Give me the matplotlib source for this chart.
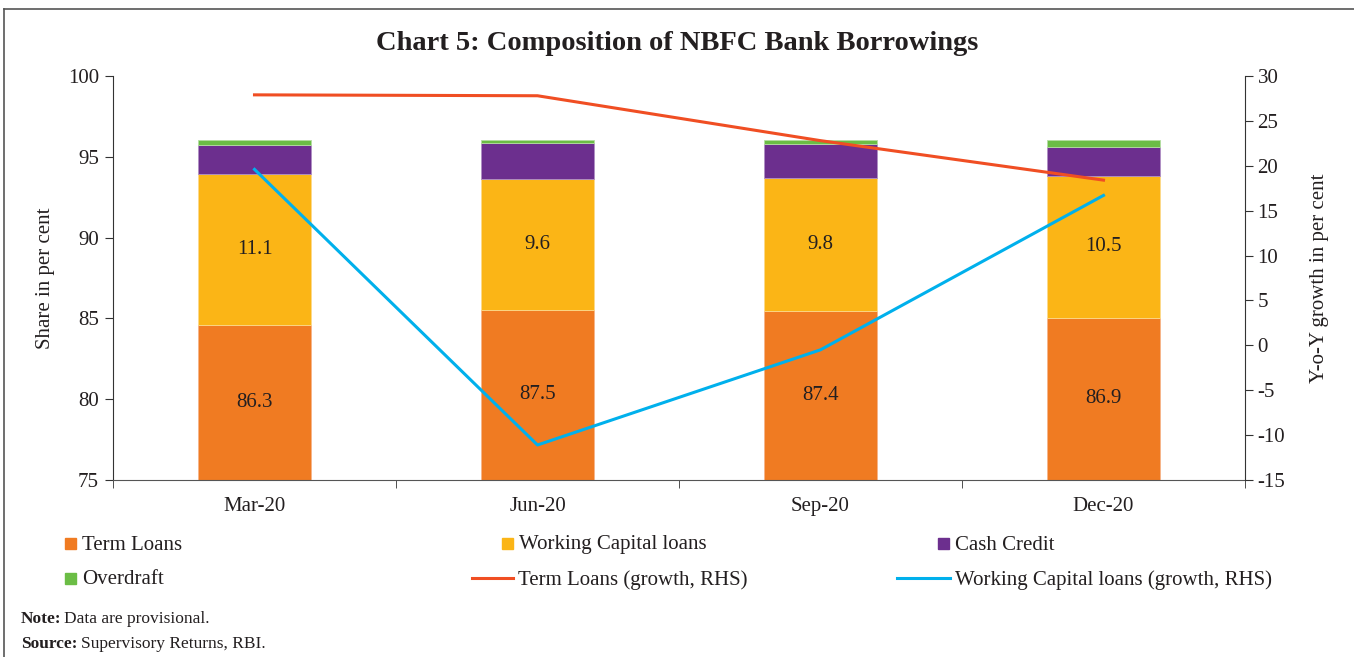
import matplotlib
matplotlib.use("Agg")
import matplotlib.pyplot as plt
from matplotlib.lines import Line2D
from matplotlib.patches import Rectangle
import numpy as np

# ---- data ----
categories = ['Mar-20', 'Jun-20', 'Sep-20', 'Dec-20']
term_loans = [84.57, 85.55, 85.43, 85.05]
working_capital = [9.35, 8.05, 8.24, 8.77]
cash_credit = [1.80, 2.25, 2.10, 1.80]
overdraft = [0.34, 0.21, 0.29, 0.44]
term_labels = ['86.3', '87.5', '87.4', '86.9']
wc_labels = ['11.1', '9.6', '9.8', '10.5']
term_growth = [27.9, 27.8, 22.8, 18.4]
wc_growth = [19.6, -11.1, -0.5, 16.7]
left_ticks = [75, 80, 85, 90, 95, 100]
right_ticks = [-15, -10, -5, 0, 5, 10, 15, 20, 25, 30]

C_TL = '#F07B22'
C_WC = '#FBB516'
C_CC = '#6C2F8E'
C_OD = '#6BBD45'
C_RED = '#F04E23'
C_BLUE = '#00B0EC'

FONT = 'Liberation Serif'
plt.rcParams['font.family'] = [FONT, 'DejaVu Serif']
TXT = '#231F20'

W, H = 1354, 657
fig = plt.figure(figsize=(W / 100, H / 100), dpi=100)
ax = fig.add_axes([113 / W, 1 - 480 / H, (1245 - 113) / W, (480 - 76) / H])

x = np.arange(len(categories))
bw = 0.4
tl = np.array(term_loans)
wc = np.array(working_capital)
cc = np.array(cash_credit)
od = np.array(overdraft)
ax.bar(x, tl, bw, color=C_TL, edgecolor='#F6B48A', linewidth=0.6)
ax.bar(x, wc, bw, bottom=tl, color=C_WC, edgecolor='#FCD98A', linewidth=0.6)
ax.bar(x, cc, bw, bottom=tl + wc, color=C_CC, edgecolor='#B08FC4', linewidth=0.6)
ax.bar(x, od, bw, bottom=tl + wc + cc, color=C_OD, edgecolor='#B5DEA2', linewidth=0.6)

ymin, ymax = 75, 100
ax.set_ylim(ymin, ymax)
ax.set_xlim(-0.5, len(categories) - 0.5)
for i in range(len(categories)):
    ax.text(x[i], (ymin + tl[i]) / 2, term_labels[i], ha='center', va='center',
            fontsize=15, color=TXT)
    ax.text(x[i], tl[i] + wc[i] / 2, wc_labels[i], ha='center', va='center',
            fontsize=15, color=TXT)

ax.set_yticks(left_ticks)
ax.set_yticklabels([str(t) for t in left_ticks], fontsize=15, color=TXT)
ax.set_xticks(x)
ax.set_xticklabels(categories, fontsize=15, color=TXT)
ax.set_xticks(np.arange(-0.5, len(categories), 1.0), minor=True)
ax.tick_params(axis='x', which='major', length=0, pad=12)
ax.tick_params(axis='x', which='minor', length=6, direction='out', color='#333333')
ax.tick_params(axis='y', length=6, direction='out', color='#333333', pad=4)
for s in ['top', 'right']:
    ax.spines[s].set_visible(False)
ax.spines['left'].set_color('#333333')
ax.spines['bottom'].set_color('#555555')
ax.set_ylabel('Share in per cent', fontsize=15, color=TXT, labelpad=9)

ax2 = ax.twinx()
ax2.plot(x, term_growth, color=C_RED, lw=2.2)
ax2.plot(x, wc_growth, color=C_BLUE, lw=2.2)
ax2.set_ylim(-15, 30)
ax2.set_yticks(right_ticks)
ax2.set_yticklabels([str(t) for t in right_ticks], fontsize=15, color=TXT)
ax2.tick_params(axis='y', length=6, direction='out', color='#333333', pad=3)
for s in ['top', 'left', 'bottom']:
    ax2.spines[s].set_visible(False)
ax2.spines['right'].set_color('#333333')
ax2.set_ylabel('Y-o-Y growth in per cent', fontsize=15, color=TXT, labelpad=18)

# title
fig.text(677 / W, 1 - 43 / H, 'Chart 5: Composition of NBFC Bank Borrowings',
         ha='center', va='center', fontsize=20.5, fontweight='bold', color=TXT)

# legend (manual placement)
def fy(py):
    return 1 - py / H

def sq(px, py, color):
    fig.add_artist(Rectangle((px / W, fy(py + 5.5)), 11 / W, 11 / H, color=color,
                             transform=fig.transFigure))

def ln(px0, px1, py, color):
    fig.add_artist(Line2D([px0 / W, px1 / W], [fy(py), fy(py)], color=color, lw=2.2,
                          transform=fig.transFigure))

legend_items = [
    ('sq', 65, 543, C_TL, 'Term Loans'),
    ('sq', 502, 543, C_WC, 'Working Capital loans'),
    ('sq', 938, 543, C_CC, 'Cash Credit'),
    ('sq', 65, 578, C_OD, 'Overdraft'),
    ('ln', (472, 513), 578, C_RED, 'Term Loans (growth, RHS)'),
    ('ln', (897, 950), 578, C_BLUE, 'Working Capital loans (growth, RHS)'),
]
for kind, px, py, col, lab in legend_items:
    if kind == 'sq':
        sq(px, py, col)
        tx = px + 17
    else:
        ln(px[0], px[1], py, col)
        tx = px[1] + 5
    fig.text(tx / W, fy(py + 2), lab, ha='left', va='center', fontsize=15, color=TXT)

# notes
fig.text(21 / W, fy(619), 'Note:', fontsize=12.5, fontweight='bold', color=TXT, va='center')
fig.text(64 / W, fy(619), 'Data are provisional.', fontsize=12.5, color=TXT, va='center')
fig.text(21 / W, fy(644), 'Source:', fontsize=12.5, fontweight='bold', color=TXT, va='center')
fig.text(81 / W, fy(644), 'Supervisory Returns, RBI.', fontsize=12.5, color=TXT, va='center')

# frame
fig.add_artist(Line2D([4 / W, 1.0], [fy(9), fy(9)], color='#555555', lw=1.2,
                      transform=fig.transFigure))
fig.add_artist(Line2D([4 / W, 4 / W], [0, fy(9)], color='#555555', lw=1.2,
                      transform=fig.transFigure))

fig.savefig('out.png', dpi=100)
